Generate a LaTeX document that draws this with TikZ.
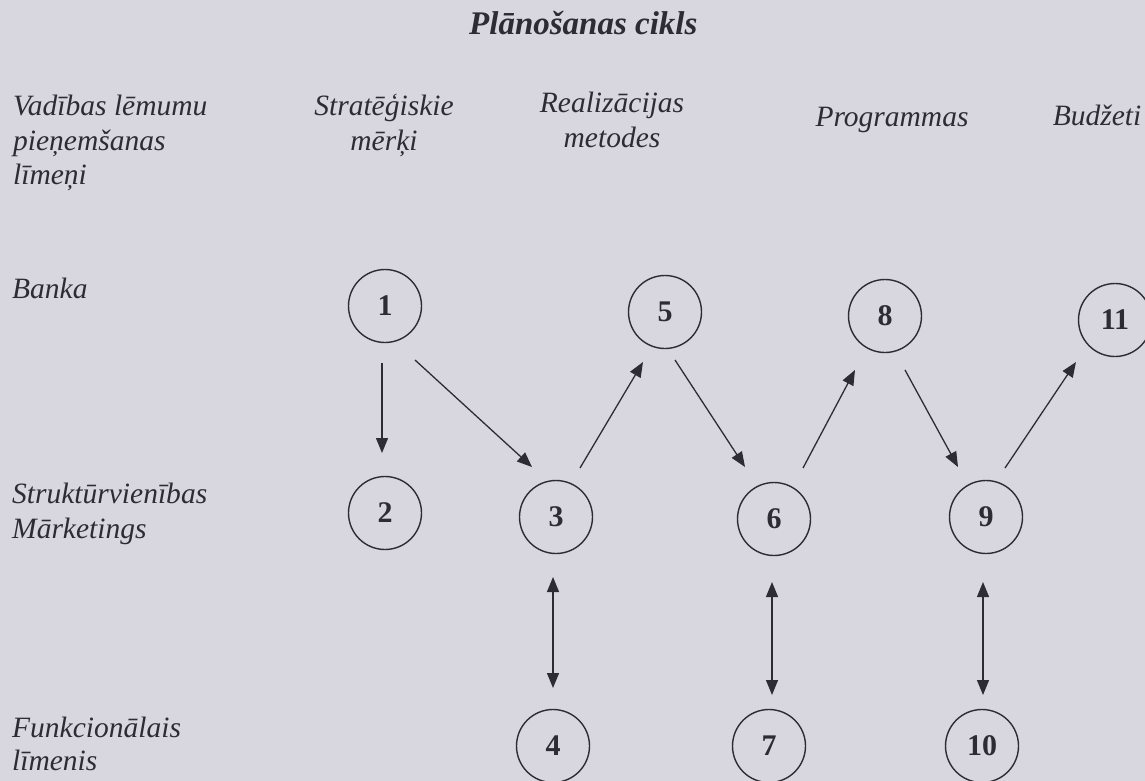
\documentclass[tikz,border=0pt]{standalone}
\usepackage{fontspec}
\setmainfont{Liberation Serif}
\usetikzlibrary{arrows.meta,calc}
\definecolor{paper}{HTML}{D8D6DF}
\definecolor{ink}{HTML}{2E2C33}
\begin{document}
\begin{tikzpicture}[x=1pt,y=-1pt,
  lbl/.style={font=\fontsize{29.5}{34}\selectfont\itshape, text=ink, inner sep=0pt, anchor=base west},
  hdr/.style={font=\fontsize{29.5}{34}\selectfont\itshape, text=ink, inner sep=0pt, anchor=base},
  ttl/.style={font=\fontsize{33}{38}\selectfont\bfseries\itshape, text=ink, inner sep=0pt, anchor=base west},
  num/.style={circle, draw=ink, line width=1.4pt, minimum size=73pt, inner sep=0pt,
              font=\fontsize{30}{34}\selectfont\bfseries, text=ink},
  arr/.style={draw=ink, line width=1.3pt, -{Triangle[length=15pt,width=12pt]}},
  dbl/.style={draw=ink, line width=1.3pt,
              {Triangle[length=15pt,width=12pt]}-{Triangle[length=15pt,width=12pt]}}]

  % page
  \fill[paper] (0,0) rectangle (1145,781);
  \useasboundingbox (0,0) rectangle (1145,781);

  % title
  \node[ttl] (title) at (469,35) {Plānošanas cikls};

  % column headings
  \node[lbl] (lvA) at (13,116) {Vadības lēmumu};
  \node[lbl] (lvB) at (13,150) {pieņemšanas};
  \node[lbl] (lvC) at (13,184) {līmeņi};
  \node[hdr] (smA) at (384,116) {Stratēģiskie};
  \node[hdr] (smB) at (384,150) {mērķi};
  \node[hdr] (rmA) at (612,113) {Realizācijas};
  \node[hdr] (rmB) at (612,147) {metodes};
  \node[hdr] (pr)  at (892,127) {Programmas};
  \node[hdr] (bu)  at (1097,126) {Budžeti};

  % row headings
  \node[lbl] (rBank) at (12,298) {Banka};
  \node[lbl] (rStA)  at (12,503) {Struktūrvienības};
  \node[lbl] (rStB)  at (12,538) {Mārketings};
  \node[lbl] (rFuA)  at (12,737) {Funkcionālais};
  \node[lbl] (rFuB)  at (12,770) {līmenis};

  % numbered steps
  \node[num] (c1)  at (385,306) {1};
  \node[num] (c2)  at (385,513) {2};
  \node[num] (c3)  at (556,517) {3};
  \node[num] (c4)  at (553,746) {4};
  \node[num] (c5)  at (665,312) {5};
  \node[num] (c6)  at (774,519) {6};
  \node[num] (c7)  at (769,746) {7};
  \node[num] (c8)  at (885,316) {8};
  \node[num] (c9)  at (986,517) {9};
  \node[num] (c10) at (982,746) {10};
  \node[num] (c11) at (1115,320) {11};

  % planning flow
  \draw[arr] ($(c1)+(-3,57)$)  -- ($(c2)+(-3,-60)$);
  \draw[arr] ($(c1)+(30,54)$)  -- ($(c3)+(-24,-50)$);
  \draw[arr] ($(c3)+(24,-49)$) -- ($(c5)+(-22,50)$);
  \draw[arr] ($(c5)+(10,48)$)  -- ($(c6)+(-29,-52)$);
  \draw[arr] ($(c6)+(29,-51)$) -- ($(c8)+(-30,54)$);
  \draw[arr] ($(c8)+(20,54)$)  -- ($(c9)+(-28,-50)$);
  \draw[arr] ($(c9)+(19,-49)$) -- ($(c11)+(-39,42)$);

  % links to the functional level
  \draw[dbl] ($(c3)+(-3,60)$) -- ($(c4)+(0,-58)$);
  \draw[dbl] ($(c6)+(-2,63)$) -- ($(c7)+(3,-51)$);
  \draw[dbl] ($(c9)+(-3,65)$) -- ($(c10)+(1,-51)$);
\end{tikzpicture}
\end{document}
